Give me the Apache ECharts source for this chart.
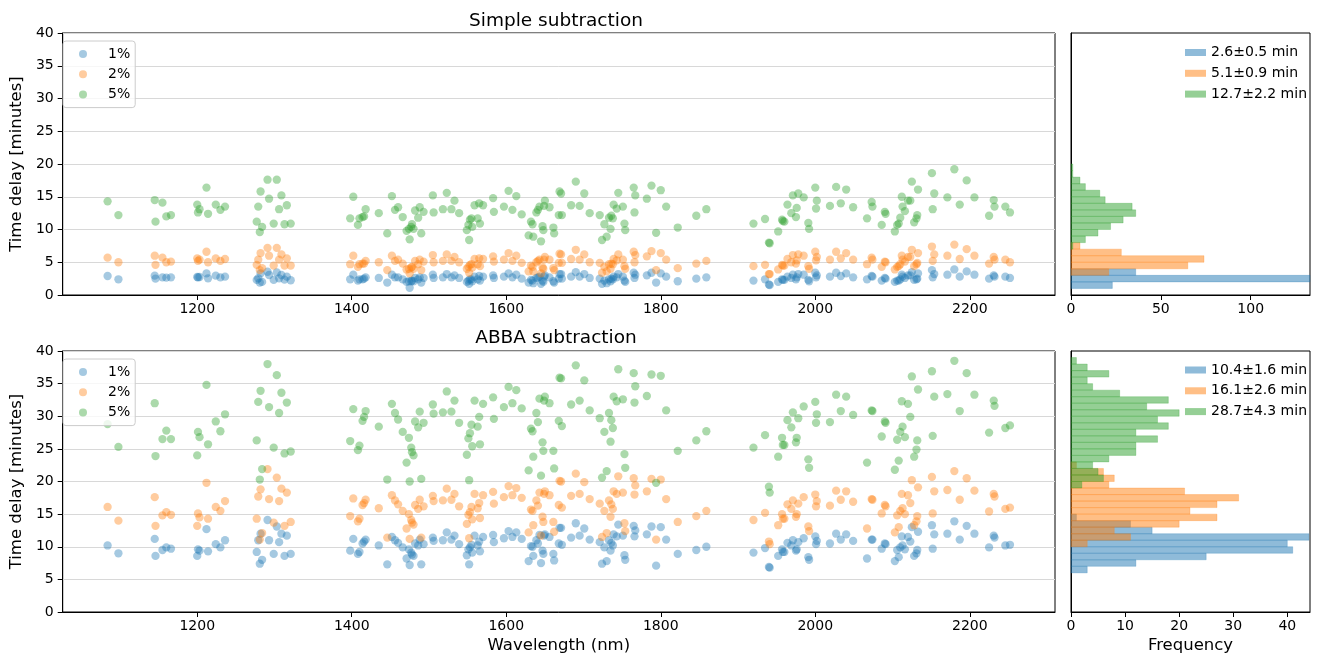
<!DOCTYPE html>
<html>
<head>
<meta charset="utf-8">
<script src="https://cdn.jsdelivr.net/npm/echarts@6/dist/echarts.min.js"></script>
<style>
  html, body { margin: 0; padding: 0; background: #ffffff; }
  #chart { width: 1318px; height: 656px; }
</style>
</head>
<body>
<div id="chart"></div>
<script>
// Measurement wavelengths (nm), shared by every concentration and both methods
const wavelengths = [
  1084, 1098, 1145, 1146, 1155, 1160, 1166, 1200, 1201, 1203,
  1212, 1214, 1224, 1230, 1236, 1277, 1279, 1281, 1282, 1284,
  1291, 1293, 1299, 1303, 1306, 1309, 1313, 1316, 1321, 1398,
  1402, 1408, 1410, 1414, 1416, 1418, 1435, 1446, 1452, 1456,
  1460, 1466, 1471, 1474, 1475, 1477, 1478, 1480, 1482, 1486,
  1488, 1490, 1493, 1505, 1506, 1518, 1523, 1529, 1533, 1539,
  1549, 1551, 1552, 1553, 1555, 1556, 1559, 1563, 1565, 1566,
  1570, 1583, 1584, 1597, 1603, 1608, 1613, 1620, 1629, 1632,
  1634, 1635, 1639, 1641, 1643, 1645, 1647, 1648, 1649, 1650,
  1656, 1661, 1662, 1668, 1669, 1671, 1672, 1684, 1690, 1695,
  1701, 1708, 1721, 1724, 1727, 1730, 1733, 1735, 1736, 1738,
  1739, 1743, 1745, 1751, 1753, 1754, 1765, 1766, 1767, 1782,
  1788, 1794, 1800, 1807, 1822, 1846, 1859, 1920, 1935, 1940,
  1941, 1952, 1957, 1958, 1960, 1964, 1969, 1971, 1975, 1976,
  1978, 1985, 1991, 1992, 2000, 2001, 2002, 2019, 2027, 2033,
  2040, 2049, 2067, 2073, 2074, 2086, 2090, 2091, 2103, 2106,
  2108, 2110, 2112, 2113, 2116, 2120, 2123, 2125, 2128, 2131,
  2132, 2133, 2151, 2152, 2154, 2171, 2180, 2187, 2196, 2206,
  2225, 2231, 2232, 2246, 2252
];

// Time delay (minutes), simple subtraction
const simple1 = [
  2.9, 2.4, 2.95, 2.5, 2.7, 2.65, 2.7, 2.75, 2.7, 2.75,
  3.3, 2.55, 2.95, 2.7, 2.8, 2.3, 2.55, 1.9, 3.3, 2.0,
  3.55, 3.05, 2.3, 3.45, 2.55, 3.05, 2.35, 2.8, 2.25, 2.4,
  3.1, 2.2, 2.4, 2.4, 2.5, 2.7, 2.6, 1.9, 3.1, 2.7,
  2.7, 2.4, 2.0, 2.1, 1.1, 2.1, 2.2, 2.1, 2.6, 2.4,
  2.7, 1.9, 2.6, 3.1, 2.6, 2.7, 3.2, 2.7, 3.0, 2.6,
  2.0, 2.2, 1.7, 2.4, 2.4, 2.1, 2.8, 2.4, 2.9, 2.2,
  2.8, 3.0, 2.6, 2.8, 3.3, 2.7, 3.1, 2.5, 1.9, 2.3,
  2.2, 1.8, 2.6, 2.7, 2.8, 1.7, 2.2, 2.0, 2.8, 3.0,
  2.7, 2.1, 1.9, 2.5, 3.2, 3.2, 2.5, 2.8, 3.5, 2.8,
  3.2, 2.6, 2.5, 1.7, 2.2, 1.8, 2.4, 2.1, 2.5, 2.4,
  2.8, 2.7, 3.2, 2.8, 2.2, 2.0, 3.4, 2.6, 3.1, 3.0,
  3.4, 1.9, 3.3, 2.8, 2.1, 2.5, 2.7, 2.2, 2.4, 1.6,
  1.5, 2.0, 2.4, 2.3, 2.3, 2.8, 2.6, 3.1, 2.4, 2.7,
  3.2, 3.1, 2.3, 2.1, 3.4, 2.7, 3.0, 2.8, 3.4, 2.9,
  3.3, 2.7, 2.4, 2.9, 2.8, 2.2, 2.6, 2.5, 2.0, 2.2,
  2.2, 2.4, 3.1, 2.8, 2.6, 3.0, 3.0, 3.5, 2.3, 2.4,
  2.5, 3.3, 3.8, 2.7, 3.2, 3.1, 3.9, 2.8, 3.6, 3.1,
  2.5, 3.0, 2.8, 2.8, 2.6
];
const simple2 = [
  5.7, 5.0, 6.0, 4.6, 5.7, 5.0, 5.1, 5.6, 5.2, 5.4,
  6.6, 5.0, 5.6, 5.2, 5.5, 4.6, 5.4, 3.8, 6.4, 4.1,
  7.2, 6.0, 4.5, 7.2, 5.4, 6.2, 4.5, 5.6, 4.5, 4.7,
  6.0, 4.3, 4.7, 4.8, 4.8, 5.2, 5.0, 3.8, 6.0, 5.2,
  5.4, 4.8, 3.9, 4.0, 3.3, 4.2, 4.3, 4.0, 5.2, 4.7,
  5.4, 3.8, 5.1, 6.1, 5.0, 5.2, 6.2, 5.2, 5.8, 5.0,
  4.0, 4.3, 3.4, 4.6, 4.7, 4.2, 5.5, 4.7, 5.6, 4.4,
  5.5, 5.9, 5.1, 5.4, 6.4, 5.2, 6.0, 4.9, 3.6, 4.5,
  4.3, 3.6, 5.0, 5.2, 5.4, 3.3, 4.2, 4.0, 5.4, 5.8,
  5.4, 4.1, 3.8, 4.9, 6.3, 6.2, 4.9, 5.5, 6.9, 5.4,
  6.2, 5.0, 4.9, 3.4, 4.3, 3.6, 4.7, 4.0, 4.8, 4.7,
  5.5, 5.3, 6.2, 5.4, 4.4, 4.0, 6.6, 5.0, 6.1, 5.9,
  6.7, 3.8, 6.4, 5.4, 4.1, 4.8, 5.2, 4.4, 4.6, 3.2,
  3.2, 3.9, 4.6, 4.5, 4.5, 5.5, 5.0, 6.1, 4.8, 5.3,
  6.2, 6.0, 4.4, 4.0, 6.6, 5.3, 5.8, 5.4, 6.6, 5.6,
  6.4, 5.4, 4.7, 5.7, 5.4, 4.3, 5.1, 5.0, 3.9, 4.3,
  4.4, 4.7, 6.0, 5.4, 5.1, 5.8, 5.8, 6.9, 4.4, 4.7,
  4.9, 6.4, 7.4, 5.2, 6.2, 6.0, 7.7, 5.5, 7.0, 6.0,
  4.8, 5.8, 5.4, 5.4, 5.0
];
const simple5 = [
  14.3, 12.2, 14.5, 11.2, 14.1, 12.0, 12.2, 13.8, 12.6, 13.1,
  16.4, 12.4, 13.8, 13.0, 13.5, 11.2, 13.5, 9.6, 15.8, 10.4,
  17.6, 14.7, 10.9, 17.6, 13.1, 15.2, 10.8, 13.7, 10.9, 11.7,
  15.0, 10.7, 11.7, 11.9, 12.0, 13.1, 12.5, 9.4, 15.1, 13.0,
  13.4, 11.9, 9.8, 10.1, 8.5, 10.4, 10.8, 10.1, 12.9, 11.8,
  13.4, 9.4, 12.7, 15.2, 12.6, 13.1, 15.6, 13.1, 14.4, 12.5,
  9.9, 10.7, 8.4, 11.5, 11.7, 10.4, 13.7, 11.7, 14.0, 10.9,
  13.7, 14.8, 12.7, 13.5, 15.9, 13.0, 15.1, 12.3, 9.1, 11.2,
  10.8, 8.9, 12.6, 13.0, 13.5, 8.2, 10.5, 9.9, 13.6, 14.4,
  13.4, 10.3, 9.4, 12.2, 15.8, 15.5, 12.2, 13.7, 17.3, 13.6,
  15.5, 12.5, 12.2, 8.4, 10.8, 8.9, 11.8, 10.1, 12.1, 11.7,
  13.8, 13.2, 15.6, 13.5, 10.9, 9.9, 16.4, 12.6, 15.2, 14.7,
  16.7, 9.5, 16.0, 13.5, 10.3, 12.1, 13.1, 10.9, 11.6, 8.0,
  7.9, 9.7, 11.5, 11.3, 11.2, 13.8, 12.5, 15.2, 11.9, 13.3,
  15.5, 14.9, 11.0, 10.1, 16.4, 13.2, 14.4, 13.6, 16.5, 14.0,
  16.1, 13.4, 11.7, 14.2, 13.5, 10.7, 12.7, 12.4, 9.7, 10.7,
  10.9, 11.8, 15.0, 13.5, 12.8, 14.4, 14.4, 17.3, 11.1, 11.7,
  12.2, 16.1, 18.6, 13.1, 15.5, 14.9, 19.2, 13.8, 17.5, 14.9,
  12.1, 14.5, 13.5, 13.5, 12.6
];

// Time delay (minutes), ABBA subtraction
const abba1 = [
  10.2, 9.0, 11.2, 8.6, 9.5, 9.9, 9.7, 8.6, 9.6, 9.4,
  12.7, 9.3, 10.4, 9.9, 11.0, 9.2, 11.0, 7.4, 12.0, 8.0,
  14.1, 11.0, 8.9, 13.1, 10.7, 12.0, 8.6, 11.7, 8.9, 9.4,
  11.2, 8.9, 9.2, 10.5, 10.8, 11.1, 10.2, 7.3, 11.5, 11.0,
  10.6, 9.9, 8.2, 9.6, 7.2, 9.1, 8.8, 8.6, 10.5, 10.2,
  11.1, 7.3, 10.4, 11.4, 10.9, 11.0, 12.2, 11.1, 11.7, 10.4,
  8.7, 9.6, 7.3, 9.9, 10.3, 9.1, 11.7, 10.2, 10.8, 9.3,
  11.5, 11.8, 10.7, 11.3, 12.4, 11.5, 12.2, 11.2, 7.8, 10.1,
  10.0, 8.6, 11.0, 10.5, 11.8, 7.5, 9.4, 8.9, 11.7, 11.9,
  11.5, 8.9, 7.9, 10.5, 12.9, 12.9, 10.3, 11.4, 13.6, 11.7,
  12.8, 11.1, 10.7, 7.4, 9.9, 7.8, 11.0, 9.4, 10.6, 10.2,
  11.9, 11.6, 13.4, 11.7, 8.7, 8.0, 13.2, 11.6, 12.5, 11.9,
  13.1, 7.1, 13.0, 11.1, 8.9, 9.5, 10.0, 9.1, 9.8, 6.9,
  6.8, 8.6, 9.6, 9.2, 9.2, 10.6, 10.2, 11.0, 9.4, 9.6,
  10.7, 11.3, 8.4, 8.0, 11.6, 10.4, 10.9, 10.5, 12.0, 11.1,
  11.9, 10.9, 8.2, 11.1, 11.1, 9.7, 10.5, 10.4, 7.8, 9.5,
  8.4, 9.9, 11.6, 10.2, 9.6, 11.5, 10.8, 13.0, 8.6, 9.0,
  9.5, 12.3, 13.3, 9.7, 11.9, 12.0, 13.9, 11.1, 13.2, 12.0,
  9.9, 11.7, 11.4, 10.2, 10.3
];
const abba2 = [
  16.1, 14.0, 17.6, 13.2, 14.8, 15.3, 14.9, 13.2, 15.1, 14.5,
  19.8, 14.3, 16.1, 15.5, 17.0, 14.3, 17.7, 11.1, 18.8, 12.1,
  21.9, 17.3, 13.7, 20.6, 17.0, 18.9, 13.2, 18.3, 13.8, 14.7,
  17.4, 13.9, 14.3, 16.4, 16.7, 17.2, 15.9, 11.4, 17.9, 17.1,
  16.5, 15.5, 12.8, 15.0, 11.2, 14.1, 13.7, 13.4, 16.4, 15.8,
  17.2, 11.4, 16.2, 17.8, 17.0, 17.1, 18.9, 17.2, 18.1, 16.2,
  13.5, 14.9, 11.3, 15.3, 16.1, 14.2, 18.1, 15.9, 16.7, 14.4,
  17.9, 18.4, 16.6, 17.6, 19.3, 17.9, 19.0, 17.5, 12.2, 15.7,
  15.5, 13.3, 17.1, 16.3, 18.3, 11.7, 14.6, 13.8, 18.1, 18.5,
  17.9, 13.8, 12.3, 16.4, 20.1, 20.0, 16.0, 17.8, 21.2, 18.1,
  19.9, 17.3, 16.6, 11.5, 15.5, 12.1, 17.1, 14.6, 16.5, 15.8,
  18.5, 18.1, 20.8, 18.3, 13.6, 12.4, 20.5, 18.0, 19.4, 18.5,
  20.4, 11.1, 20.3, 17.3, 13.8, 14.7, 15.5, 14.1, 15.2, 10.8,
  10.4, 13.3, 15.0, 14.3, 14.3, 16.5, 15.8, 17.1, 14.6, 15.0,
  16.6, 17.6, 13.1, 12.4, 18.0, 16.2, 17.0, 16.3, 18.6, 17.2,
  18.5, 16.9, 12.8, 17.3, 17.2, 15.1, 16.4, 16.2, 12.2, 14.8,
  13.0, 15.5, 18.1, 15.9, 15.0, 17.9, 16.7, 20.2, 13.3, 13.9,
  14.7, 19.1, 20.7, 15.1, 18.5, 18.7, 21.6, 17.2, 20.5, 18.6,
  15.4, 18.1, 17.7, 15.8, 16.0
];
const abba5 = [
  28.8, 25.3, 32.0, 23.9, 26.5, 27.8, 26.5, 24.0, 27.6, 26.8,
  34.8, 25.7, 29.2, 27.7, 30.3, 26.3, 32.2, 20.3, 33.9, 21.9,
  38.0, 31.4, 25.2, 36.3, 30.5, 33.6, 24.3, 32.1, 24.6, 26.2,
  31.1, 24.8, 25.5, 29.3, 29.9, 30.8, 28.4, 20.3, 31.9, 30.5,
  29.5, 27.6, 22.9, 26.7, 20.0, 25.2, 24.5, 24.0, 29.2, 28.3,
  30.7, 20.4, 29.0, 31.8, 30.4, 30.6, 33.8, 30.7, 32.4, 29.0,
  24.1, 26.6, 20.2, 27.4, 28.7, 25.4, 32.4, 28.4, 29.9, 25.7,
  31.9, 32.9, 29.6, 31.4, 34.5, 32.0, 34.0, 31.2, 21.7, 28.1,
  27.7, 23.8, 30.5, 29.1, 32.7, 20.9, 26.0, 24.7, 32.4, 33.0,
  32.0, 24.7, 22.0, 29.3, 35.9, 35.8, 28.5, 31.8, 37.8, 32.4,
  35.5, 30.9, 29.7, 20.6, 27.6, 21.6, 30.5, 26.1, 29.4, 28.2,
  33.0, 32.3, 37.2, 32.6, 24.2, 22.1, 36.6, 32.1, 34.6, 33.1,
  36.4, 19.8, 36.2, 30.9, 24.7, 26.3, 27.7, 25.2, 27.1, 19.2,
  18.3, 23.8, 26.7, 25.6, 25.6, 29.4, 28.3, 30.6, 26.0, 26.7,
  29.7, 31.5, 23.4, 22.1, 32.2, 29.0, 30.3, 29.1, 33.3, 30.8,
  33.0, 30.2, 22.9, 30.9, 30.8, 26.9, 29.2, 29.0, 21.8, 26.4,
  23.2, 27.6, 32.3, 28.4, 26.8, 31.9, 29.9, 36.1, 23.8, 24.9,
  26.3, 34.1, 36.9, 27.0, 33.0, 33.4, 38.5, 30.8, 36.6, 33.3,
  27.5, 32.4, 31.6, 28.2, 28.6
];

// Histogram bins: lower edge of the first bin and counts per 1-minute bin
const binWidth = 1;
const simpleHist1Start = 1, simpleHist1 = [23, 133, 36];
const simpleHist2Start = 3, simpleHist2 = [21, 65, 74, 28, 5];
const simpleHist5Start = 7, simpleHist5 = [1, 8, 15, 22, 29, 36, 34, 19, 16, 8, 5, 1, 1];
const abbaHist1Start = 6, abbaHist1 = [3, 12, 25, 41, 40, 44, 15, 11, 1];
const abbaHist2Start = 10, abbaHist2 = [3, 11, 8, 20, 27, 22, 27, 31, 21, 7, 8, 6, 1];
const abbaHist5Start = 19, abbaHist5 = [2, 6, 5, 4, 7, 12, 12, 16, 12, 18, 16, 20, 14, 18, 9, 4, 3, 7, 3, 1];

// Labels
const concentrations = ['1%', '2%', '5%'];
const simpleStats = ['2.6±0.5 min', '5.1±0.9 min', '12.7±2.2 min'];
const abbaStats = ['10.4±1.6 min', '16.1±2.6 min', '28.7±4.3 min'];
const wavelengthTicks = [1200, 1400, 1600, 1800, 2000, 2200];
const simpleFreqTicks = [0, 50, 100];
const abbaFreqTicks = [0, 10, 20, 30, 40];

const FONT = 'DejaVu Sans';
const TICK_SIZE = 14;
const LABEL_SIZE = 16.5;
const colors = ['rgba(31,119,180,0.5)', 'rgba(255,127,14,0.5)', 'rgba(44,160,44,0.5)'];

function scatterSeries(name, values, color, idx) {
  return {
    type: 'scatter', name: name,
    xAxisIndex: idx, yAxisIndex: idx,
    data: wavelengths.map((w, i) => [w, values[i]]),
    symbol: 'circle', symbolSize: 8.3,
    itemStyle: { color: color, borderWidth: 0 },
    silent: true, animation: false
  };
}

function histSeries(name, start, counts, color, idx) {
  return {
    type: 'custom', name: name,
    xAxisIndex: idx, yAxisIndex: idx,
    itemStyle: { color: color },
    data: counts.map((c, i) => [c, start + i * binWidth]),
    renderItem: function (params, api) {
      const c = api.value(0), lo = api.value(1);
      const p0 = api.coord([0, lo]);
      const p1 = api.coord([c, lo + binWidth]);
      return {
        type: 'rect',
        shape: { x: p0[0], y: p1[1], width: p1[0] - p0[0], height: p0[1] - p1[1] },
        style: { fill: color, stroke: color, lineWidth: 0.5 }
      };
    },
    silent: true, animation: false
  };
}

const plain = v => String(v);
const axisBlack = { show: true, lineStyle: { color: '#000', width: 1 } };
const tickBlack = { show: true, inside: false, length: 5, lineStyle: { color: '#000', width: 1 } };
const labelStyle = { color: '#000', fontFamily: FONT, fontSize: TICK_SIZE, formatter: plain };
const nameStyle = { color: '#000', fontFamily: FONT, fontSize: LABEL_SIZE };

function scatterX(idx, withName) {
  return {
    type: 'value', gridIndex: idx, min: 1025.9, max: 2310.3,
    axisLine: axisBlack,
    axisTick: Object.assign({}, tickBlack, { customValues: wavelengthTicks }),
    axisLabel: Object.assign({}, labelStyle, { margin: 7, customValues: wavelengthTicks }),
    splitLine: { show: false },
    name: withName ? 'Wavelength (nm)' : '',
    nameLocation: 'middle', nameGap: 25, nameTextStyle: nameStyle
  };
}
function scatterY(idx) {
  return {
    type: 'value', gridIndex: idx, min: 0, max: 40, interval: 5,
    axisLine: axisBlack, axisTick: tickBlack,
    axisLabel: Object.assign({}, labelStyle, { margin: 9 }),
    splitLine: { show: true, lineStyle: { color: '#d8d8d8', width: 1 } },
    name: 'Time delay [minutes]', nameLocation: 'middle', nameGap: 30,
    nameTextStyle: nameStyle
  };
}
function histX(idx, max, ticks, withName) {
  return {
    type: 'value', gridIndex: idx, min: 0, max: max,
    axisLine: axisBlack,
    axisTick: Object.assign({}, tickBlack, { customValues: ticks }),
    axisLabel: Object.assign({}, labelStyle, { margin: 7, customValues: ticks }),
    splitLine: { show: false },
    name: withName ? 'Frequency' : '',
    nameLocation: 'middle', nameGap: 25, nameTextStyle: nameStyle
  };
}
function histY(idx) {
  return {
    type: 'value', gridIndex: idx, min: 0, max: 40, interval: 5,
    axisLine: axisBlack, axisTick: { show: false }, axisLabel: { show: false },
    splitLine: { show: false }
  };
}

function scatterLegend(top) {
  return {
    data: concentrations, orient: 'vertical', left: 63, top: top,
    padding: [6, 5, 6, 16], itemGap: 6.3, itemWidth: 8, itemHeight: 8,
    icon: 'circle', selectedMode: false,
    backgroundColor: 'rgba(255,255,255,0.8)', borderColor: '#cccccc', borderWidth: 1, borderRadius: 3,
    textStyle: { color: '#000', fontFamily: FONT, fontSize: TICK_SIZE, padding: [0, 0, 0, 16] }
  };
}
function histLegend(names, top) {
  return {
    data: names, orient: 'vertical', left: 1183, top: top,
    padding: [2, 2, 2, 2], itemGap: 6.8, itemWidth: 21, itemHeight: 7,
    icon: 'rect', selectedMode: false,
    textStyle: { color: '#000', fontFamily: FONT, fontSize: TICK_SIZE }
  };
}

const option = {
  animation: false,
  backgroundColor: '#ffffff',
  grid: [
    { left: 57, top: 33, width: 998, height: 262, show: true, borderColor: '#000', borderWidth: 1, backgroundColor: 'transparent' },
    { left: 1071, top: 33, width: 239, height: 262, show: true, borderColor: '#000', borderWidth: 1, backgroundColor: 'transparent' },
    { left: 57, top: 351, width: 998, height: 261, show: true, borderColor: '#000', borderWidth: 1, backgroundColor: 'transparent' },
    { left: 1071, top: 351, width: 239, height: 261, show: true, borderColor: '#000', borderWidth: 1, backgroundColor: 'transparent' }
  ],
  xAxis: [
    scatterX(0, false),
    histX(1, 133.0, simpleFreqTicks, false),
    scatterX(2, true),
    histX(3, 44.2, abbaFreqTicks, true)
  ],
  yAxis: [scatterY(0), histY(1), scatterY(2), histY(3)],
  legend: [
    scatterLegend(41),
    histLegend(simpleStats, 43.5),
    scatterLegend(359),
    histLegend(abbaStats, 361)
  ],
  graphic: [
    { type: 'text', x: 556, y: 21, style: { text: 'Simple subtraction', fill: '#000', font: '18.5px "DejaVu Sans"', textAlign: 'center', textVerticalAlign: 'middle' } },
    { type: 'text', x: 556, y: 338, style: { text: 'ABBA subtraction', fill: '#000', font: '18.5px "DejaVu Sans"', textAlign: 'center', textVerticalAlign: 'middle' } }
  ],
  series: [
    scatterSeries(concentrations[0], simple1, colors[0], 0),
    scatterSeries(concentrations[1], simple2, colors[1], 0),
    scatterSeries(concentrations[2], simple5, colors[2], 0),
    histSeries(simpleStats[0], simpleHist1Start, simpleHist1, colors[0], 1),
    histSeries(simpleStats[1], simpleHist2Start, simpleHist2, colors[1], 1),
    histSeries(simpleStats[2], simpleHist5Start, simpleHist5, colors[2], 1),
    scatterSeries(concentrations[0], abba1, colors[0], 2),
    scatterSeries(concentrations[1], abba2, colors[1], 2),
    scatterSeries(concentrations[2], abba5, colors[2], 2),
    histSeries(abbaStats[0], abbaHist1Start, abbaHist1, colors[0], 3),
    histSeries(abbaStats[1], abbaHist2Start, abbaHist2, colors[1], 3),
    histSeries(abbaStats[2], abbaHist5Start, abbaHist5, colors[2], 3)
  ]
};

const chart = echarts.init(document.getElementById('chart'), null, { renderer: 'canvas' });
chart.setOption(option);
</script>
</body>
</html>
